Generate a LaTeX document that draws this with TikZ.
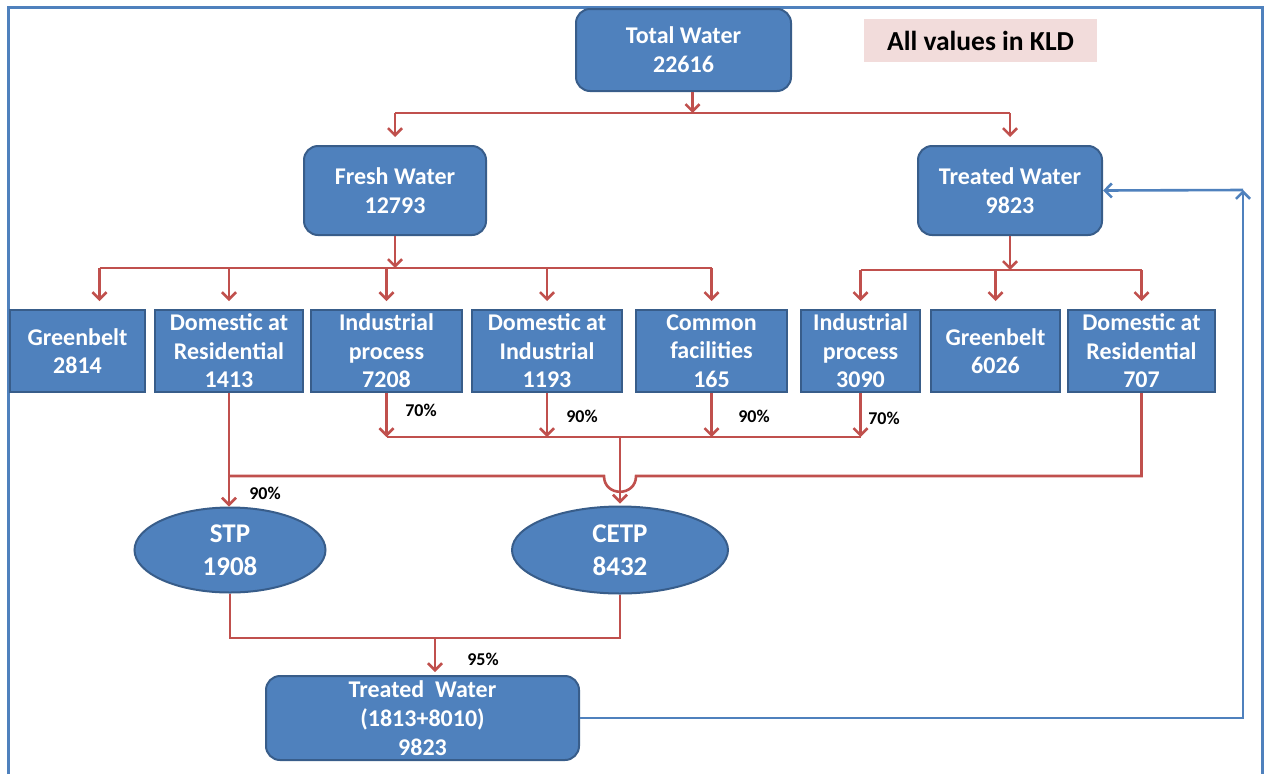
\documentclass[tikz,border=0pt]{standalone}
\usepackage{fontspec}
\setmainfont{Carlito}
\usepackage{tikz}
\usetikzlibrary{shapes.geometric,arrows.meta,positioning,calc}
\definecolor{boxblue}{RGB}{79,129,189}
\definecolor{boxedge}{RGB}{56,93,138}
\definecolor{flowred}{RGB}{192,80,77}
\definecolor{notepink}{RGB}{242,220,219}

\begin{document}
\begin{tikzpicture}[x=1pt, y=-1pt,
  roundbox/.style={draw=boxedge, line width=2pt, fill=boxblue, rounded corners=14pt,
                   text=white, align=center, inner sep=0pt,
                   font=\bfseries\fontsize{24}{29}\selectfont},
  flatbox/.style={roundbox, rounded corners=0pt, minimum height=82pt,
                  font=\bfseries\fontsize{24}{28.5}\selectfont},
  plant/.style={ellipse, draw=boxedge, line width=2pt, fill=boxblue, text=white,
                align=center, inner sep=0pt, font=\bfseries\fontsize{27}{33}\selectfont},
  pct/.style={font=\bfseries\fontsize{18}{20}\selectfont, inner sep=0pt},
  flow/.style={draw=flowred, line width=2.6pt},
  arr/.style={flow, -{Straight Barb[length=7pt,width=14pt]}},
  ret/.style={draw=boxblue, line width=2.6pt, -{Straight Barb[length=7pt,width=14pt]}}
]
\useasboundingbox (0,0) rectangle (1265,774);
\draw[boxblue, line width=3pt] (8,774) -- (8,7) -- (1262,7) -- (1262,774);

\node[roundbox, minimum width=215pt, minimum height=82pt] (total) at (683.5,50) {Total Water\\22616};
\node[fill=notepink, minimum width=233pt, minimum height=43pt,
      font=\bfseries\fontsize{27.5}{30}\selectfont] (kld) at (980.5,40.5) {All values in KLD};

\node[roundbox, minimum width=182pt, minimum height=89pt] (fresh) at (395,190.5) {Fresh Water\\12793};
\node[roundbox, minimum width=184pt, minimum height=89pt] (tw1) at (1010,190.5) {Treated Water\\9823};

% consumers
\node[flatbox, minimum width=135pt] (gb1) at (77.5,351) {Greenbelt\\2814};
\node[flatbox, minimum width=148pt] (domres1) at (229,351) {Domestic at\\Residential\\1413};
\node[flatbox, minimum width=151pt] (ind1) at (386.5,351) {Industrial\\process\\7208};
\node[flatbox, minimum width=150pt] (domind) at (547,351) {Domestic at\\Industrial\\1193};
\node[flatbox, minimum width=151pt] (common) at (711.5,351) {Common\\facilities\\165};
\node[flatbox, minimum width=119pt] (ind2) at (860.5,351) {Industrial\\process\\3090};
\node[flatbox, minimum width=129pt] (gb2) at (995.5,351) {Greenbelt\\6026};
\node[flatbox, minimum width=147pt] (domres2) at (1141.5,351) {Domestic at\\Residential\\707};

\node[plant, minimum width=191pt, minimum height=85pt] (stp) at (230,550) {STP\\1908};
\node[plant, minimum width=216pt, minimum height=87pt] (cetp) at (620,550) {CETP\\8432};

\node[roundbox, minimum width=313pt, minimum height=84pt] (tw2) at (422.5,718) {Treated\ \ Water\\(1813+8010)\\9823};

% split of total water
\coordinate (bus0) at (0,113);
\coordinate (totap) at ([xshift=9pt]total.south);
\draw[arr] (totap) -- (totap |- bus0);
\draw[flow] (bus0 -| fresh.north) -- (bus0 -| tw1.north);
\draw[arr] (bus0 -| fresh.north) -- ([yshift=8pt]fresh.north);
\draw[arr] (bus0 -| tw1.north) -- ([yshift=8pt]tw1.north);

% fresh water split
\coordinate (bus1) at (0,268);
\coordinate (gbtap) at ([xshift=22pt]gb1.north);
\draw[arr] (fresh.south) -- (fresh.south |- bus1);
\draw[flow] (gbtap |- bus1) -- (bus1 -| common.north);
\draw[arr] (gbtap |- bus1) -- ([yshift=8pt]gbtap);
\foreach \n in {domres1, ind1, domind, common}
  \draw[arr] (bus1 -| \n.north) -- ([yshift=8pt]\n.north);

% treated water split
\coordinate (bus2) at (0,270);
\draw[arr] (tw1.south) -- (tw1.south |- bus2);
\draw[flow] (bus2 -| ind2.north) -- (bus2 -| domres2.north);
\foreach \n in {ind2, gb2, domres2}
  \draw[arr] (bus2 -| \n.north) -- ([yshift=8pt]\n.north);

% effluent to CETP
\coordinate (bus3) at (0,437);
\foreach \n in {ind1, domind, common, ind2}
  \draw[arr] (\n.south) -- (\n.south |- bus3);
\draw[flow] (bus3 -| ind1.south) -- (bus3 -| ind2.south);
\draw[arr] (bus3 -| cetp.north) -- ([yshift=2pt]cetp.north);

% sewage to STP
\draw[arr] (domres1.south) -- (domres1.south |- stp.north);
\coordinate (hop) at (cetp.north |- 0,476);
\draw[flow] (domres2.south) |- ($(hop)+(16,0)$)
  .. controls +(0,21) and +(0,21) .. ($(hop)+(-16,0)$) -- (hop -| domres1.south);

% treated water
\coordinate (merge) at (435,638);
\coordinate (twin) at (merge |- tw2.north);
\draw[flow] (stp.south) |- (merge) -| (cetp.south);
\draw[arr] (merge) -- ([yshift=3pt]twin);

% recycle
\coordinate (loop) at (1243,190);
\draw[ret] (tw2.east) -| (loop);
\draw[ret] (loop) -- (tw1.east);

\node[pct] (p1) at (421,410) {70\%};
\node[pct] (p2) at (582,416) {90\%};
\node[pct] (p3) at (754,416) {90\%};
\node[pct] (p4) at (884,418) {70\%};
\node[pct] (p5) at (265,493) {90\%};
\node[pct] (p6) at (483,659) {95\%};
\end{tikzpicture}
\end{document}
